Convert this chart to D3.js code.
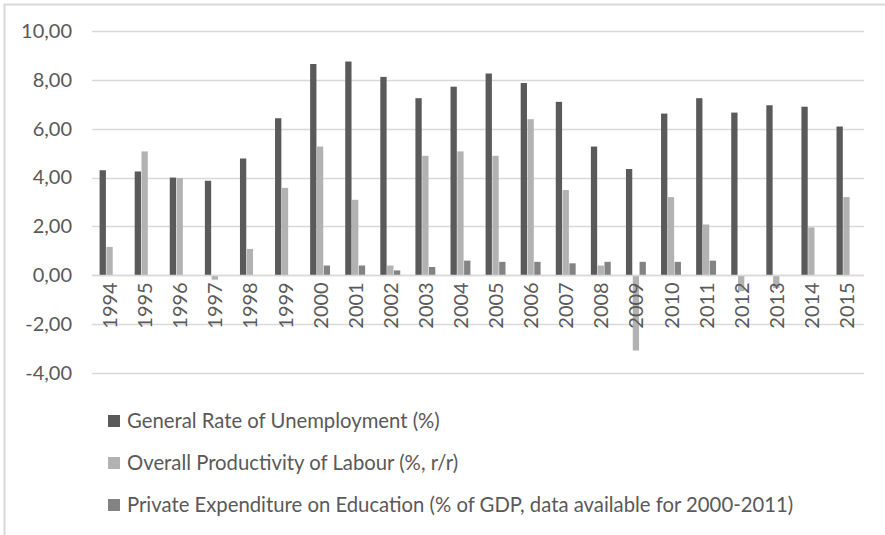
<!DOCTYPE html>
<html>
<head>
<meta charset="utf-8">
<script src="https://cdn.jsdelivr.net/npm/d3@7"></script>
<style>
  body { margin: 0; background: #fff; }
  text { font-family: Lato, "Noto Sans", sans-serif; fill: #595959; }
</style>
</head>
<body>
<div id="chart"></div>
<script>
const years = ["1994","1995","1996","1997","1998","1999","2000","2001","2002","2003","2004",
  "2005","2006","2007","2008","2009","2010","2011","2012","2013","2014","2015"]

const unemployment = [4.3, 4.25, 4.0, 3.87, 4.78, 6.43, 8.65, 8.75, 8.12, 7.25, 7.72,
  8.26, 7.87, 7.1, 5.27, 4.35, 6.62, 7.25, 6.66, 6.96, 6.9, 6.09]
const productivity = [1.16, 5.07, 3.98, -0.18, 1.08, 3.58, 5.27, 3.09, 0.4, 4.89, 5.07,
  4.89, 6.39, 3.49, 0.4, -3.08, 3.2, 2.08, -0.65, -0.52, 1.96, 3.2]
// only 2000-2011
const privateEdu = [null, null, null, null, null, null, 0.4, 0.4, 0.2, 0.34, 0.6,
  0.55, 0.55, 0.49, 0.55, 0.55, 0.55, 0.6, null, null, null, null]

const seriesNames = [
  "General Rate of Unemployment (%)",
  "Overall Productivity of Labour (%, r/r)",
  "Private Expenditure on Education (% of GDP, data available for 2000-2011)"
]
const yTicks = [-4, -2, 0, 2, 4, 6, 8, 10]

const colors = ["#5a5a5a", "#b2b2b2", "#838383"]

const svgWidth = 885
const svgHeight = 535

const margin = { top: 31, right: 21, bottom: 162, left: 92 }

let svg = d3.select("#chart")
  .append("svg")
  .attr("width", svgWidth)
  .attr("height", svgHeight)

// outer frame (only left + top visible)
svg.append("path")
  .attr("d", "M4.5," + svgHeight + "V4.5H" + svgWidth)
  .attr("fill", "none")
  .attr("stroke", "#d9d9d9")
  .attr("stroke-width", 2)

const x = d3.scaleBand()
  .domain(years)
  .range([margin.left, svgWidth - margin.right])

const y = d3.scaleLinear()
  .domain([-4, 10])
  .range([svgHeight - margin.bottom, margin.top])

// comma decimals, plain hyphen for minus
const fmt = v => d3.format(".2f")(v).replace(".", ",").replace("\u2212", "-")

// gridlines
svg.append("g")
  .selectAll("line")
  .data(yTicks)
  .enter()
  .append("line")
  .attr("x1", margin.left)
  .attr("x2", svgWidth - margin.right)
  .attr("y1", d => Math.round(y(d)) + 0.5)
  .attr("y2", d => Math.round(y(d)) + 0.5)
  .attr("stroke", "#d9d9d9")
  .attr("stroke-width", 1.3)

// y axis labels
let yAxis = svg.append("g")
  .attr("transform", `translate(${margin.left - 20},0)`)
  .call(d3.axisLeft(y).tickValues(yTicks).tickFormat(fmt).tickSize(0).tickPadding(0))
yAxis.select(".domain").remove()
yAxis.selectAll("text")
  .attr("font-size", 20)
  .attr("fill", "#595959")
  .style("font-family", "Lato, 'Noto Sans', sans-serif")

// bars
const barW = 6.3
const step = 6.8
const series = [unemployment, productivity, privateEdu]

series.forEach((vals, s) => {
  svg.append("g")
    .selectAll("rect")
    .data(vals.map((v, i) => ({ year: years[i], v: v })).filter(d => d.v !== null))
    .enter()
    .append("rect")
    .attr("x", d => x(d.year) + x.bandwidth() / 2 - step * 1.5 + s * step + (step - barW) / 2)
    .attr("y", d => y(Math.max(0, d.v)))
    .attr("width", barW)
    .attr("height", d => Math.abs(y(d.v) - y(0)))
    .attr("fill", colors[s])
})

// zero line over bars
svg.append("line")
  .attr("x1", margin.left)
  .attr("x2", svgWidth - margin.right)
  .attr("y1", Math.round(y(0)) + 0.5)
  .attr("y2", Math.round(y(0)) + 0.5)
  .attr("stroke", "#d9d9d9")
  .attr("stroke-width", 1.3)

// x labels, rotated
svg.append("g")
  .selectAll("text")
  .data(years)
  .enter()
  .append("text")
  .attr("transform", d => `translate(${x(d) + x.bandwidth() / 2 + 7.5},${y(0) + 7}) rotate(-90)`)
  .attr("text-anchor", "end")
  .attr("font-size", 20)
  .text(d => d)

// legend
let legend = svg.append("g")
  .selectAll("g")
  .data(seriesNames)
  .enter()
  .append("g")
  .attr("transform", (d, i) => `translate(108,${421 + i * 42})`)

legend.append("rect")
  .attr("x", 0)
  .attr("y", -6)
  .attr("width", 12)
  .attr("height", 12)
  .attr("fill", (d, i) => colors[i])

legend.append("text")
  .attr("x", 19)
  .attr("y", 7)
  .attr("font-size", 20.3)
  .text(d => d)
</script>
</body>
</html>
